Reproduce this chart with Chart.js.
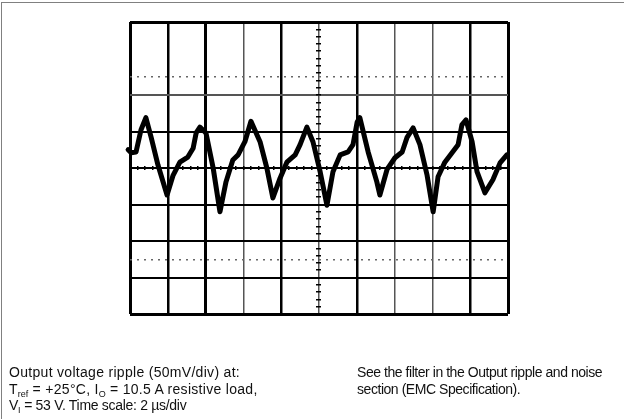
<!DOCTYPE html>
<html>
<head>
<meta charset="utf-8">
<script src="https://cdn.jsdelivr.net/npm/chart.js@4"></script>
<style>
  body { margin: 0; background: #fff; }
  #wrap { position: relative; width: 624px; height: 419px; overflow: hidden; }
  #frame { position: absolute; left: 1px; top: 2px; width: 623px; height: 417px;
           border-top: 1px solid #808080; border-left: 1px solid #808080; }
  .note { position: absolute; top: 364px; font-family: "Liberation Sans", Arial, sans-serif;
          font-size: 14px; line-height: 16.5px; color: #111; white-space: nowrap; }
  .note .s { font-size: 9px; vertical-align: -3px; line-height: 0; letter-spacing: 0; }
</style>
</head>
<body>
<div id="wrap">
  <div id="frame"></div>
  <canvas id="scope"></canvas>
  <div class="note" style="left:9px">
    <span style="letter-spacing:0.3px">Output voltage ripple (50mV/div) at:</span><br>
    <span style="letter-spacing:0.3px">T<span class="s">ref</span> = +25°C, I<span class="s">O</span> = 10.5 A resistive load,</span><br>
    <span style="letter-spacing:-0.3px">V<span class="s">I</span> = 53 V. Time scale: 2 µs/div</span>
  </div>
  <div class="note" style="left:357px; letter-spacing:-0.45px">
    See the filter in the Output ripple and noise<br>
    section (EMC Specification).
  </div>
</div>
<script>
// 시간 (µs, 2 µs/div) 과 리플 전압 (mV, 50 mV/div)
const timeUs = [-0.38, -0.10, 0.06, 0.32, 0.58, 0.84, 1.12, 1.48, 1.96, 2.28,
  2.64, 3.06, 3.34, 3.50, 3.70, 4.02, 4.40, 4.76, 5.08, 5.44,
  5.72, 6.08, 6.40, 6.88, 7.24, 7.56, 7.94, 8.30, 8.74, 9.00,
  9.36, 9.68, 10.06, 10.42, 10.74, 11.12, 11.54, 11.80, 12.02, 12.16,
  12.60, 13.06, 13.22, 13.60, 14.02, 14.40, 14.66, 14.98, 15.34, 15.72,
  16.04, 16.30, 16.66, 17.04, 17.36, 17.56, 17.78, 18.10, 18.36, 18.78,
  19.20, 19.58, 19.94];
const rippleMv = [22, 25, 21, 22, 52, 69, 42, 4, -37, -10,
  8, 15, 27, 48, 56, 48, 0, -60, -19, 11,
  18, 36, 64, 36, 0, -41, -14, 8, 18, 32,
  56, 36, -5, -51, -5, 18, 22, 32, 63, 69,
  22, -19, -37, -2, 14, 22, 42, 55, 32, -10,
  -60, -12, 8, 21, 32, 59, 66, 36, -5, -34,
  -16, 7, 18];
const cursorLevels = [125, -125];  // 점선 커서

// 눈금선 스타일 (값 -> [굵기, 색])
const xGridStyle = {0: [3, '#000'], 2: [2.5, '#000'], 4: [3, '#000'], 6: [1.5, '#555'],
  8: [2.5, '#000'], 10: [1.5, '#555'], 12: [2.5, '#000'], 14: [1.5, '#555'],
  16: [1.5, '#555'], 18: [2.5, '#000'], 20: [3, '#000']};
const yGridStyle = {200: [3, '#000'], 150: [0, '#fff'], 100: [2, '#555'], 50: [2, '#000'],
  0: [2, '#000'], '-50': [2, '#000'], '-100': [2, '#000'], '-150': [2, '#000'], '-200': [3, '#000']};

const points = timeUs.map((t, i) => ({ x: t, y: rippleMv[i] }));

new Chart(document.getElementById('scope').getContext('2d'), {
  type: 'line',
  data: {
    datasets: [{
      data: points,
      borderColor: '#000',
      borderWidth: 5,
      borderJoinStyle: 'round',
      borderCapStyle: 'round',
      pointRadius: 0,
      tension: 0,
      fill: false,
      clip: false
    }]
  },
  options: {
    responsive: true,
    maintainAspectRatio: false,
    animation: false,
    events: [],
    layout: { padding: { left: 130, top: 22, right: 116, bottom: 105 } },
    plugins: { legend: { display: false }, tooltip: { enabled: false } },
    scales: {
      x: {
        type: 'linear', min: 0, max: 20,
        ticks: { stepSize: 2, display: false },
        grid: {
          drawTicks: false,
          lineWidth: c => (xGridStyle[c.tick.value] || [1, '#000'])[0],
          color: c => (xGridStyle[c.tick.value] || [1, '#000'])[1]
        },
        border: { display: false }
      },
      y: {
        min: -200, max: 200,
        ticks: { stepSize: 50, display: false },
        grid: {
          drawTicks: false,
          lineWidth: c => (yGridStyle[c.tick.value] || [1, '#000'])[0],
          color: c => (yGridStyle[c.tick.value] || [1, '#000'])[1]
        },
        border: { display: false }
      },
      yCursor: {
        min: -200, max: 200,
        afterBuildTicks: axis => { axis.ticks = cursorLevels.map(v => ({ value: v })); },
        ticks: { display: false },
        grid: { drawTicks: false, color: '#666', lineWidth: 1.5 },
        border: { display: false, dash: [2, 5] }
      },
      // 중앙 십자선의 작은 눈금 (1/5 div)
      xMinor: {
        type: 'linear', min: 0, max: 20, position: { y: 2.5 },
        ticks: { stepSize: 0.4, display: false },
        grid: { drawOnChartArea: false, drawTicks: true, tickLength: 4, color: '#000', lineWidth: 1.5 },
        border: { display: false }
      },
      yMinor: {
        min: -200, max: 200, position: { x: 10.13 },
        ticks: { stepSize: 10, display: false },
        grid: { drawOnChartArea: false, drawTicks: true, tickLength: 5, color: '#000', lineWidth: 1.5 },
        border: { display: false }
      }
    }
  }
});
</script>
</body>
</html>
